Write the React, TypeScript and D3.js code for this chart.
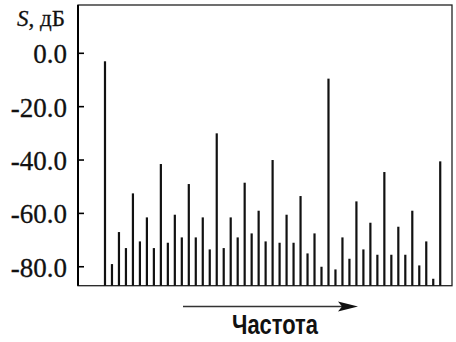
import { useEffect, useRef } from "react";
import * as d3 from "d3";

// spectral line levels, dB (left to right, equally spaced in frequency)
const levels = [
  -3, -79, -67, -73, -52.5, -70.5, -61.5, -73, -41.5, -71,
  -60.5, -69, -49, -69, -61.5, -73.5, -30, -73, -61.5, -69,
  -48.5, -67.5, -59, -70.5, -40, -71, -60.5, -71, -53.5, -75,
  -67.5, -80, -9.5, -81, -69, -77, -55.5, -73.5, -63.5, -75.5,
  -44.5, -75.5, -65, -75.5, -59, -79.5, -70.5, -84.5, -40.5,
];
const yTicks = [0, -20, -40, -60, -80];
const yTitle = "дБ";
const xTitle = "Частота";

export default function App() {
  const ref = useRef<SVGSVGElement>(null);

  useEffect(() => {
    if (!ref.current) return;
    const svg = d3.select(ref.current);
    svg.selectAll("*").remove();

    const left = 78, right = 452, top = 5, bottom = 285.7;

    const x = d3.scaleLinear().domain([-3.85, levels.length - 1 + 1.7]).range([left, right]);
    const y = d3.scaleLinear().domain([-87.1, 18.1]).range([bottom, top]);

    // frame
    svg.append("rect")
      .attr("x", left).attr("y", top)
      .attr("width", right - left).attr("height", bottom - top)
      .attr("fill", "none").attr("stroke", "#222").attr("stroke-width", 1.3);
    svg.append("line")
      .attr("x1", left).attr("x2", left).attr("y1", top).attr("y2", bottom)
      .attr("stroke", "#000").attr("stroke-width", 2);

    // spectral lines
    svg.append("g").selectAll("rect")
      .data(levels)
      .join("rect")
      .attr("x", (_d, i) => x(i) - 1)
      .attr("width", 2.2)
      .attr("y", (d) => y(d))
      .attr("height", (d) => bottom - y(d))
      .attr("fill", "#111");

    // y ticks (inward) and labels
    const ty = svg.append("g");
    ty.selectAll("line")
      .data(yTicks)
      .join("line")
      .attr("x1", left).attr("x2", left + 6)
      .attr("y1", (d) => y(d)).attr("y2", (d) => y(d))
      .attr("stroke", "#000").attr("stroke-width", 1.6);
    ty.selectAll("text")
      .data(yTicks)
      .join("text")
      .attr("x", 67)
      .attr("y", (d) => y(d) + 10)
      .attr("text-anchor", "end")
      .attr("font-family", "Liberation Serif")
      .attr("font-size", 27)
      .attr("fill", "#111")
      .attr("stroke", "#111")
      .attr("stroke-width", 0.3)
      .text((d) => (d === 0 ? "0.0" : d3.format(".1f")(d).replace("−", "-")));

    // y title
    const t = svg.append("text")
      .attr("x", 65).attr("y", 26)
      .attr("text-anchor", "end")
      .attr("font-family", "Liberation Serif")
      .attr("font-size", 23)
      .attr("fill", "#111")
      .attr("stroke", "#111")
      .attr("stroke-width", 0.3);
    t.append("tspan").attr("font-style", "italic").text("S");
    t.append("tspan").text(", " + yTitle);

    // frequency arrow
    svg.append("line")
      .attr("x1", 183).attr("x2", 345).attr("y1", 306.5).attr("y2", 306.5)
      .attr("stroke", "#333").attr("stroke-width", 1.6);
    svg.append("path")
      .attr("d", "M338,301.5 L358,306.5 L338,311.5 L342,306.5 Z")
      .attr("fill", "#111");

    svg.append("text")
      .attr("x", 275).attr("y", 333.5)
      .attr("text-anchor", "middle")
      .attr("font-family", "Liberation Sans")
      .attr("font-weight", "bold")
      .attr("font-size", 27)
      .attr("textLength", 86)
      .attr("lengthAdjust", "spacingAndGlyphs")
      .attr("fill", "#111")
      .text(xTitle);
  }, []);

  return (
    <svg
      ref={ref}
      width={456}
      height={342}
      style={{ position: "absolute", left: 0, top: 0, background: "#fff" }}
    />
  );
}
